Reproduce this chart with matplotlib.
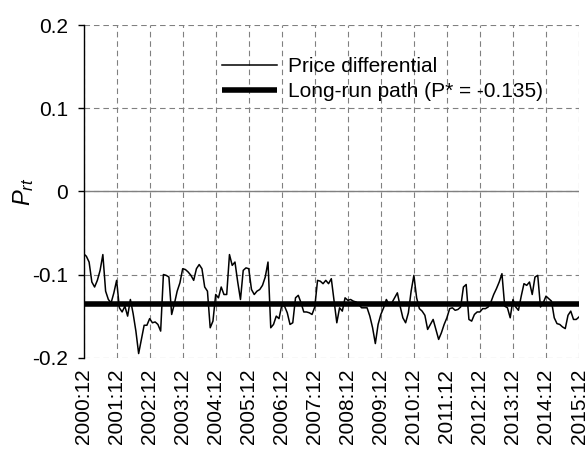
import numpy as np
import matplotlib
matplotlib.use('Agg')
import matplotlib.pyplot as plt

plt.rcParams['font.family'] = ['Liberation Sans', 'DejaVu Sans']
plt.rcParams['mathtext.fontset'] = 'custom'
plt.rcParams['mathtext.it'] = 'Liberation Sans:italic'
plt.rcParams['mathtext.rm'] = 'Liberation Sans'
plt.rcParams['axes.unicode_minus'] = False

# monthly price differential, 2000:12 .. 2015:12
price_diff = [
    -0.075,
    -0.078, -0.085, -0.109, -0.115, -0.107, -0.095, -0.076, -0.120, -0.130, -0.134, -0.122, -0.107,
    -0.140, -0.145, -0.138, -0.150, -0.130, -0.147, -0.168, -0.195, -0.178, -0.161, -0.161, -0.153,
    -0.158, -0.157, -0.160, -0.168, -0.100, -0.101, -0.103, -0.148, -0.135, -0.120, -0.110, -0.093,
    -0.094, -0.097, -0.101, -0.107, -0.093, -0.088, -0.093, -0.115, -0.120, -0.164, -0.156, -0.124,
    -0.128, -0.115, -0.124, -0.124, -0.076, -0.089, -0.085, -0.109, -0.130, -0.095, -0.092, -0.093,
    -0.118, -0.124, -0.120, -0.118, -0.113, -0.103, -0.085, -0.164, -0.160, -0.150, -0.153, -0.137,
    -0.138, -0.146, -0.160, -0.158, -0.128, -0.125, -0.134, -0.145, -0.145, -0.146, -0.148, -0.139,
    -0.107, -0.108, -0.111, -0.107, -0.111, -0.105, -0.132, -0.158, -0.140, -0.144, -0.128, -0.131,
    -0.130, -0.132, -0.133, -0.136, -0.140, -0.140, -0.140, -0.150, -0.164, -0.183, -0.160, -0.148,
    -0.140, -0.130, -0.136, -0.134, -0.128, -0.122, -0.138, -0.152, -0.158, -0.146, -0.120, -0.101,
    -0.128, -0.141, -0.144, -0.149, -0.166, -0.160, -0.154, -0.166, -0.178, -0.170, -0.160, -0.152,
    -0.141, -0.140, -0.143, -0.142, -0.139, -0.115, -0.112, -0.154, -0.156, -0.148, -0.145, -0.145,
    -0.141, -0.141, -0.139, -0.133, -0.124, -0.117, -0.109, -0.099, -0.138, -0.140, -0.152, -0.130,
    -0.139, -0.143, -0.126, -0.111, -0.113, -0.109, -0.124, -0.103, -0.101, -0.139, -0.134, -0.126,
    -0.129, -0.132, -0.152, -0.159, -0.160, -0.163, -0.165, -0.149, -0.144, -0.154, -0.154, -0.151,
]
long_run = -0.135
years = list(range(2000, 2016))
tick_labels = [str(y) + ":12" for y in years]
y_ticks = [0.2, 0.1, 0, -0.1, -0.2]
y_labels = ["0.2", "0.1", "0", "-0.1", "-0.2"]

months = np.arange(len(price_diff))

fig = plt.figure(figsize=(5.87, 4.5), dpi=100)
ax = fig.add_axes([0.1424, 0.2051, 0.8440, 0.7393])

ax.plot(months, price_diff, color='black', lw=1.1, label='Price differential')
ax.plot([months[0], months[-1]], [long_run, long_run], color='black', lw=4,
        solid_capstyle='butt', label='Long-run path (P* = -0.135)')
ax.axhline(0, color='#808080', lw=1.0, zorder=1)

ax.set_xlim(0, len(price_diff) - 1)
ax.set_ylim(-0.2, 0.2)
ax.set_xticks(np.arange(0, len(price_diff), 12))
ax.set_xticklabels(tick_labels, rotation=90, fontsize=15)
ax.set_yticks(y_ticks)
ax.set_yticklabels(y_labels, fontsize=15)
ax.tick_params(axis='x', length=0, pad=8)
ax.tick_params(axis='y', direction='out', length=4, width=1, pad=7)

ax.grid(True, color='#808080', lw=0.8, linestyle=(0, (5, 3.5)))
for side in ['top', 'right', 'bottom']:
    ax.spines[side].set_visible(False)
ax.spines['left'].set_linewidth(1)

ax.set_ylabel('$P_{rt}$', fontsize=17)
ax.yaxis.set_label_coords(-0.097, 0.5)

ax.legend(loc='upper left', bbox_to_anchor=(0.279, 0.904), frameon=False,
          fontsize=15, handlelength=2.65, handletextpad=0.53,
          borderpad=0, borderaxespad=0, labelspacing=0.3)

plt.savefig('out.png', dpi=100)
